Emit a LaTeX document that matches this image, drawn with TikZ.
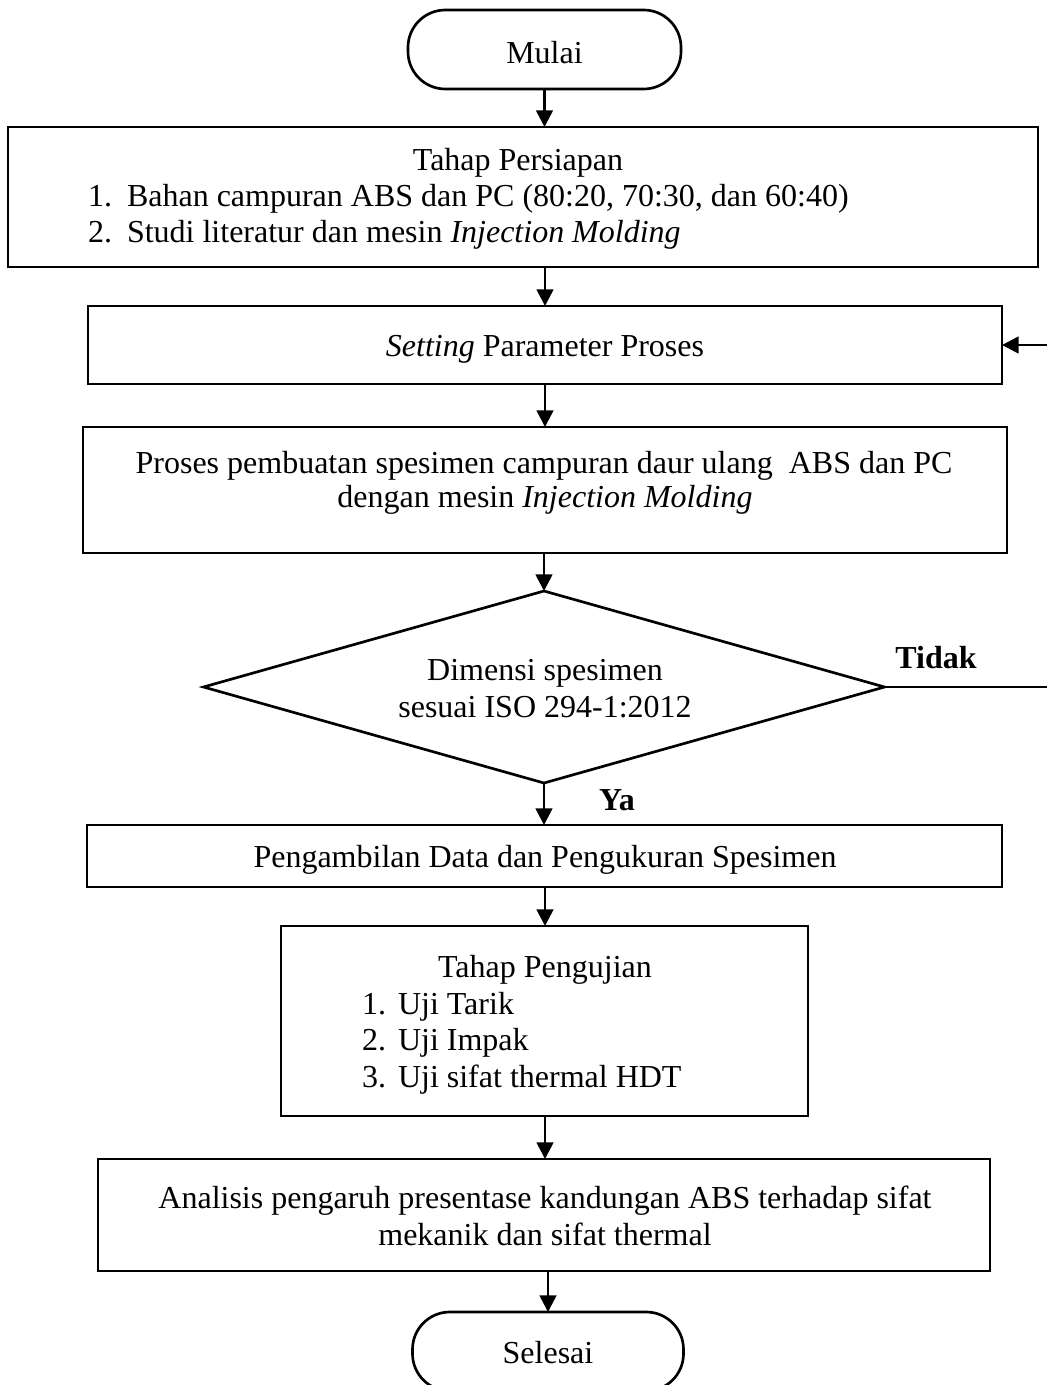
\documentclass[tikz,border=0pt]{standalone}
\usepackage{fontspec}
\setmainfont{Liberation Serif}
\usetikzlibrary{arrows.meta,shapes.geometric}
\begin{document}
\begin{tikzpicture}[x=0.75pt,y=-0.75pt,
  every node/.style={font=\fontsize{24}{27}\selectfont, inner sep=0pt, outer sep=0pt},
  box/.style={draw, line width=2pt, rectangle},
  term/.style={draw, line width=2pt, rectangle, rounded corners=28pt},
  dia/.style={draw, line width=2pt, diamond},
  txt/.style={anchor=base},
  itm/.style={anchor=base west},
  arr/.style={line width=2pt, -{Triangle[length=12.5pt,width=12.5pt]}},
  lbl/.style={anchor=base, font=\fontsize{24}{27}\selectfont\bfseries}]
\useasboundingbox (0,0) rectangle (1046,1385);
\coordinate (cx) at (545,0);

% shapes
\node[term, minimum width=204.75pt, minimum height=59.25pt] (mulai) at (544.5,49.5) {};
\node[box, minimum width=772.5pt, minimum height=105pt] (b1) at (523,197) {};
\node[box, minimum width=685.5pt, minimum height=58.5pt] (b2) at (545,345) {};
\node[box, minimum width=693pt, minimum height=94.5pt] (b3) at (545,490) {};
\node[dia, minimum width=510.75pt, minimum height=144pt] (dec) at (544,687) {};
\node[box, minimum width=686.25pt, minimum height=46.5pt] (b4) at (544.5,856) {};
\node[box, minimum width=395.25pt, minimum height=142.5pt] (b5) at (544.5,1021) {};
\node[box, minimum width=669pt, minimum height=84pt] (b6) at (544,1215) {};
\node[term, minimum width=203.25pt, minimum height=59.25pt] (sel) at (548,1351.5) {};

% texts
\node[txt] (tmulai) at (544.5,63) {Mulai};
\node[txt] (t1a) at (518,170) {Tahap Persiapan};
\node[itm] (n1b) at (88,206) {1.};
\node[itm] (t1b) at (127,206) {Bahan campuran ABS dan PC (80:20, 70:30, dan 60:40)};
\node[itm] (n1c) at (88,242) {2.};
\node[itm] (t1c) at (127,242) {Studi literatur dan mesin \textit{Injection Molding}};
\node[txt] (t2) at (545,356) {\textit{Setting} Parameter Proses};
\node[txt] (t3a) at (544,473) {Proses pembuatan spesimen campuran daur ulang\ \ ABS dan PC};
\node[txt] (t3b) at (545,507) {dengan mesin \textit{Injection Molding}};
\node[txt] (td1) at (545,680) {Dimensi spesimen};
\node[txt] (td2) at (545,717) {sesuai ISO 294-1:2012};
\node[txt] (t4) at (545,867) {Pengambilan Data dan Pengukuran Spesimen};
\node[txt] (t5a) at (545,977) {Tahap Pengujian};
\node[itm] (n5b) at (362,1014) {1.};
\node[itm] (t5b) at (398,1014) {Uji Tarik};
\node[itm] (n5c) at (362,1050) {2.};
\node[itm] (t5c) at (398,1050) {Uji Impak};
\node[itm] (n5d) at (362,1087) {3.};
\node[itm] (t5d) at (398,1087) {Uji sifat thermal HDT};
\node[txt] (t6a) at (545,1208) {Analisis pengaruh presentase kandungan ABS terhadap sifat};
\node[txt] (t6b) at (545,1245) {mekanik dan sifat thermal};
\node[txt] (tsel) at (548,1363) {Selesai};
\node[lbl] (ltidak) at (936,668) {Tidak};
\node[lbl] (lya) at (617,810) {Ya};

% connectors
\draw[arr] (mulai.south) -- (mulai.south |- b1.north);
\draw[arr] (b1.south -| cx) -- (b2.north -| cx);
\draw[arr] (b2.south -| cx) -- (b3.north -| cx);
\draw[arr] (b3.south -| dec.north) -- (dec.north);
\draw[arr] (dec.south) -- (dec.south |- b4.north);
\draw[arr] (b4.south -| cx) -- (b5.north -| cx);
\draw[arr] (b5.south -| cx) -- (b6.north -| cx);
\draw[arr] (b6.south -| sel.north) -- (sel.north);
\coordinate (fb) at (1049,687);
\draw[arr] (dec.east) -- (fb) |- (b2.east);
\end{tikzpicture}
\end{document}
